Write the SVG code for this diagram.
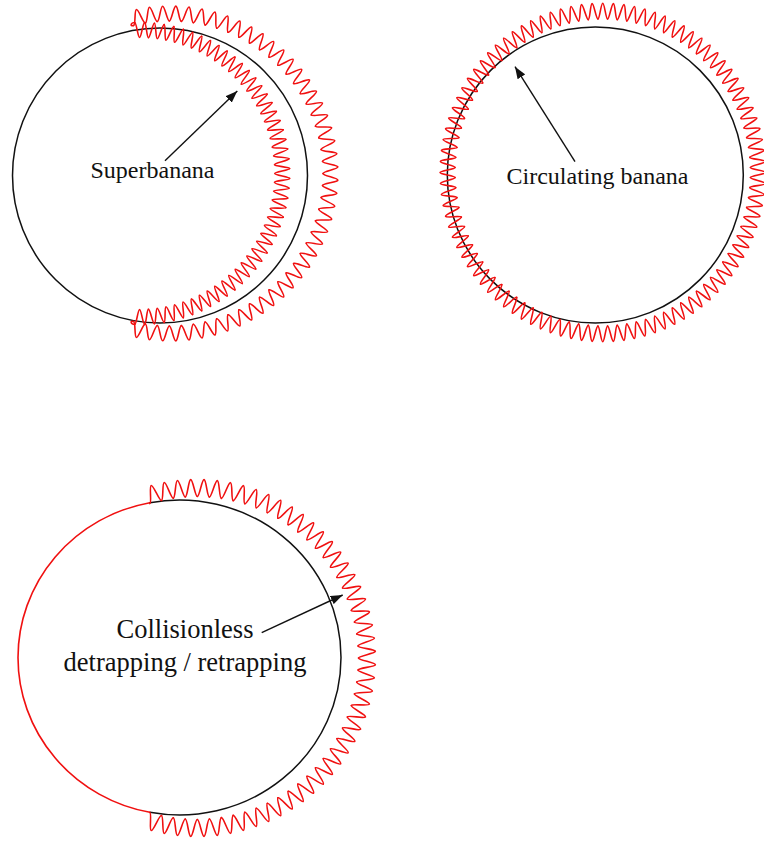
<svg xmlns="http://www.w3.org/2000/svg" width="764" height="842" viewBox="0 0 764 842">
<style>
.blk{fill:none;stroke:#111;stroke-width:1.5}
.red{fill:none;stroke:#f01010;stroke-width:1.6;stroke-linecap:round;stroke-linejoin:round}
.lbl{font-family:"Liberation Serif","Times New Roman",serif;fill:#111;text-anchor:middle}
.arr{fill:none;stroke:#111;stroke-width:1.4}
</style>
<defs>
<marker id="ah" markerUnits="userSpaceOnUse" markerWidth="13" markerHeight="9" refX="12" refY="4.5" orient="auto">
<path d="M0,0 L12,4.5 L0,9 z" fill="#111"/>
</marker>
<!-- D1 outer wave: R=160 A=7.5 delta=4.521739 -->
<path id="a1" class="red" d="M152.381,-6.016 C152.472,-3.724 167.5,-2.294 167.5,0 C167.5,2.294 152.472,3.724 152.381,6.016"/>
<g id="a2"><use href="#a1"/><use href="#a1" transform="rotate(4.521739)"/></g>
<g id="a4"><use href="#a2"/><use href="#a2" transform="rotate(9.043478)"/></g>
<g id="a8"><use href="#a4"/><use href="#a4" transform="rotate(18.086957)"/></g>
<g id="a16"><use href="#a8"/><use href="#a8" transform="rotate(36.173913)"/></g>
<g id="a32"><use href="#a16"/><use href="#a16" transform="rotate(72.347826)"/></g>
<!-- D1 inner wave: R=143.5 A=7.5 delta=3.734694 -->
<path id="b1" class="red" d="M150.920,-4.920 C150.975,-3.221 136,-1.7 136,0 C136,1.7 150.975,3.221 150.920,4.920"/>
<g id="b2"><use href="#b1"/><use href="#b1" transform="rotate(3.734694)"/></g>
<g id="b4"><use href="#b2"/><use href="#b2" transform="rotate(7.469388)"/></g>
<g id="b8"><use href="#b4"/><use href="#b4" transform="rotate(14.938776)"/></g>
<g id="b16"><use href="#b8"/><use href="#b8" transform="rotate(29.877551)"/></g>
<g id="b32"><use href="#b16"/><use href="#b16" transform="rotate(59.755102)"/></g>
<!-- D2 wave: R=155.25 A=7.5 delta=3.75 -->
<path id="c1" class="red" d="M147.671,-4.834 C147.731,-2.989 162.75,-1.846 162.75,0 C162.75,1.846 147.731,2.989 147.671,4.834"/>
<g id="c2"><use href="#c1"/><use href="#c1" transform="rotate(3.75)"/></g>
<g id="c4"><use href="#c2"/><use href="#c2" transform="rotate(7.5)"/></g>
<g id="c8"><use href="#c4"/><use href="#c4" transform="rotate(15)"/></g>
<g id="c16"><use href="#c8"/><use href="#c8" transform="rotate(30)"/></g>
<g id="c32"><use href="#c16"/><use href="#c16" transform="rotate(60)"/></g>
<g id="c64"><use href="#c32"/><use href="#c32" transform="rotate(120)"/></g>
<!-- D3 wave: R=170 A=8.5 delta=4.28 -->
<path id="d1" class="red" d="M161.387,-6.031 C161.473,-3.725 178.5,-2.307 178.5,0 C178.5,2.307 161.473,3.725 161.387,6.031"/>
<g id="d2"><use href="#d1"/><use href="#d1" transform="rotate(4.28)"/></g>
<g id="d4"><use href="#d2"/><use href="#d2" transform="rotate(8.56)"/></g>
<g id="d8"><use href="#d4"/><use href="#d4" transform="rotate(17.12)"/></g>
<g id="d16"><use href="#d8"/><use href="#d8" transform="rotate(34.24)"/></g>
<g id="d32"><use href="#d16"/><use href="#d16" transform="rotate(68.48)"/></g>
</defs>

<g id="superbanana">
<circle class="blk" cx="160" cy="175.5" r="147.5"/>
<g transform="translate(170.5,173.5)">
<g transform="rotate(-101.73913)"><use href="#a32"/></g>
<g transform="rotate(42.95652)"><use href="#a8"/></g>
<g transform="rotate(79.13044)"><use href="#a4"/></g>
<g transform="rotate(97.21739)"><use href="#a2"/></g>
</g>
<g transform="translate(138.7,173.5)">
<g transform="rotate(-89.632653)"><use href="#b32"/></g>
<g transform="rotate(29.877551)"><use href="#b16"/></g>
<g transform="rotate(89.632653)"><use href="#b1"/></g>
</g>
<path class="red" d="M133.607,25.53 C129.6,26.5 130.75,22.65 134.747,22.55"/>
<path class="red" d="M133.607,321.47 C129.6,320.5 130.75,324.35 134.747,324.45"/>
<text class="lbl" x="152.5" y="178" font-size="24">Superbanana</text>
</g>

<g id="circulating">
<circle class="blk" cx="595.3" cy="175" r="148"/>
<g transform="translate(602.75,172.5) scale(1,1.04)">
<use href="#c64"/>
<use href="#c32" transform="rotate(240)"/>
</g>
<text class="lbl" x="597.5" y="183.5" font-size="24">Circulating banana</text>
</g>

<g id="detrapping">
<path class="red" d="M149.78,502.69 A161.5,157.5 0 0 0 149.78,812.31"/>
<path class="blk" d="M149.78,502.69 A161.5,157.5 0 1 1 149.78,812.31"/>
<g transform="translate(197,658)">
<g transform="rotate(-104.86)"><use href="#d32"/></g>
<g transform="rotate(32.1)"><use href="#d16"/></g>
<g transform="rotate(100.58)"><use href="#d2"/></g>
</g>
<text class="lbl" x="185" y="638" font-size="26.5">Collisionless</text>
<text class="lbl" x="185" y="671" font-size="26.5">detrapping / retrapping</text>
</g>

<g id="connectors">
<line class="arr" x1="165" y1="160.7" x2="237.3" y2="91" marker-end="url(#ah)"/>
<line class="arr" x1="575" y1="161.7" x2="515" y2="66.7" marker-end="url(#ah)"/>
<line class="arr" x1="261.7" y1="632.7" x2="342.7" y2="595" marker-end="url(#ah)"/>
</g>
</svg>
